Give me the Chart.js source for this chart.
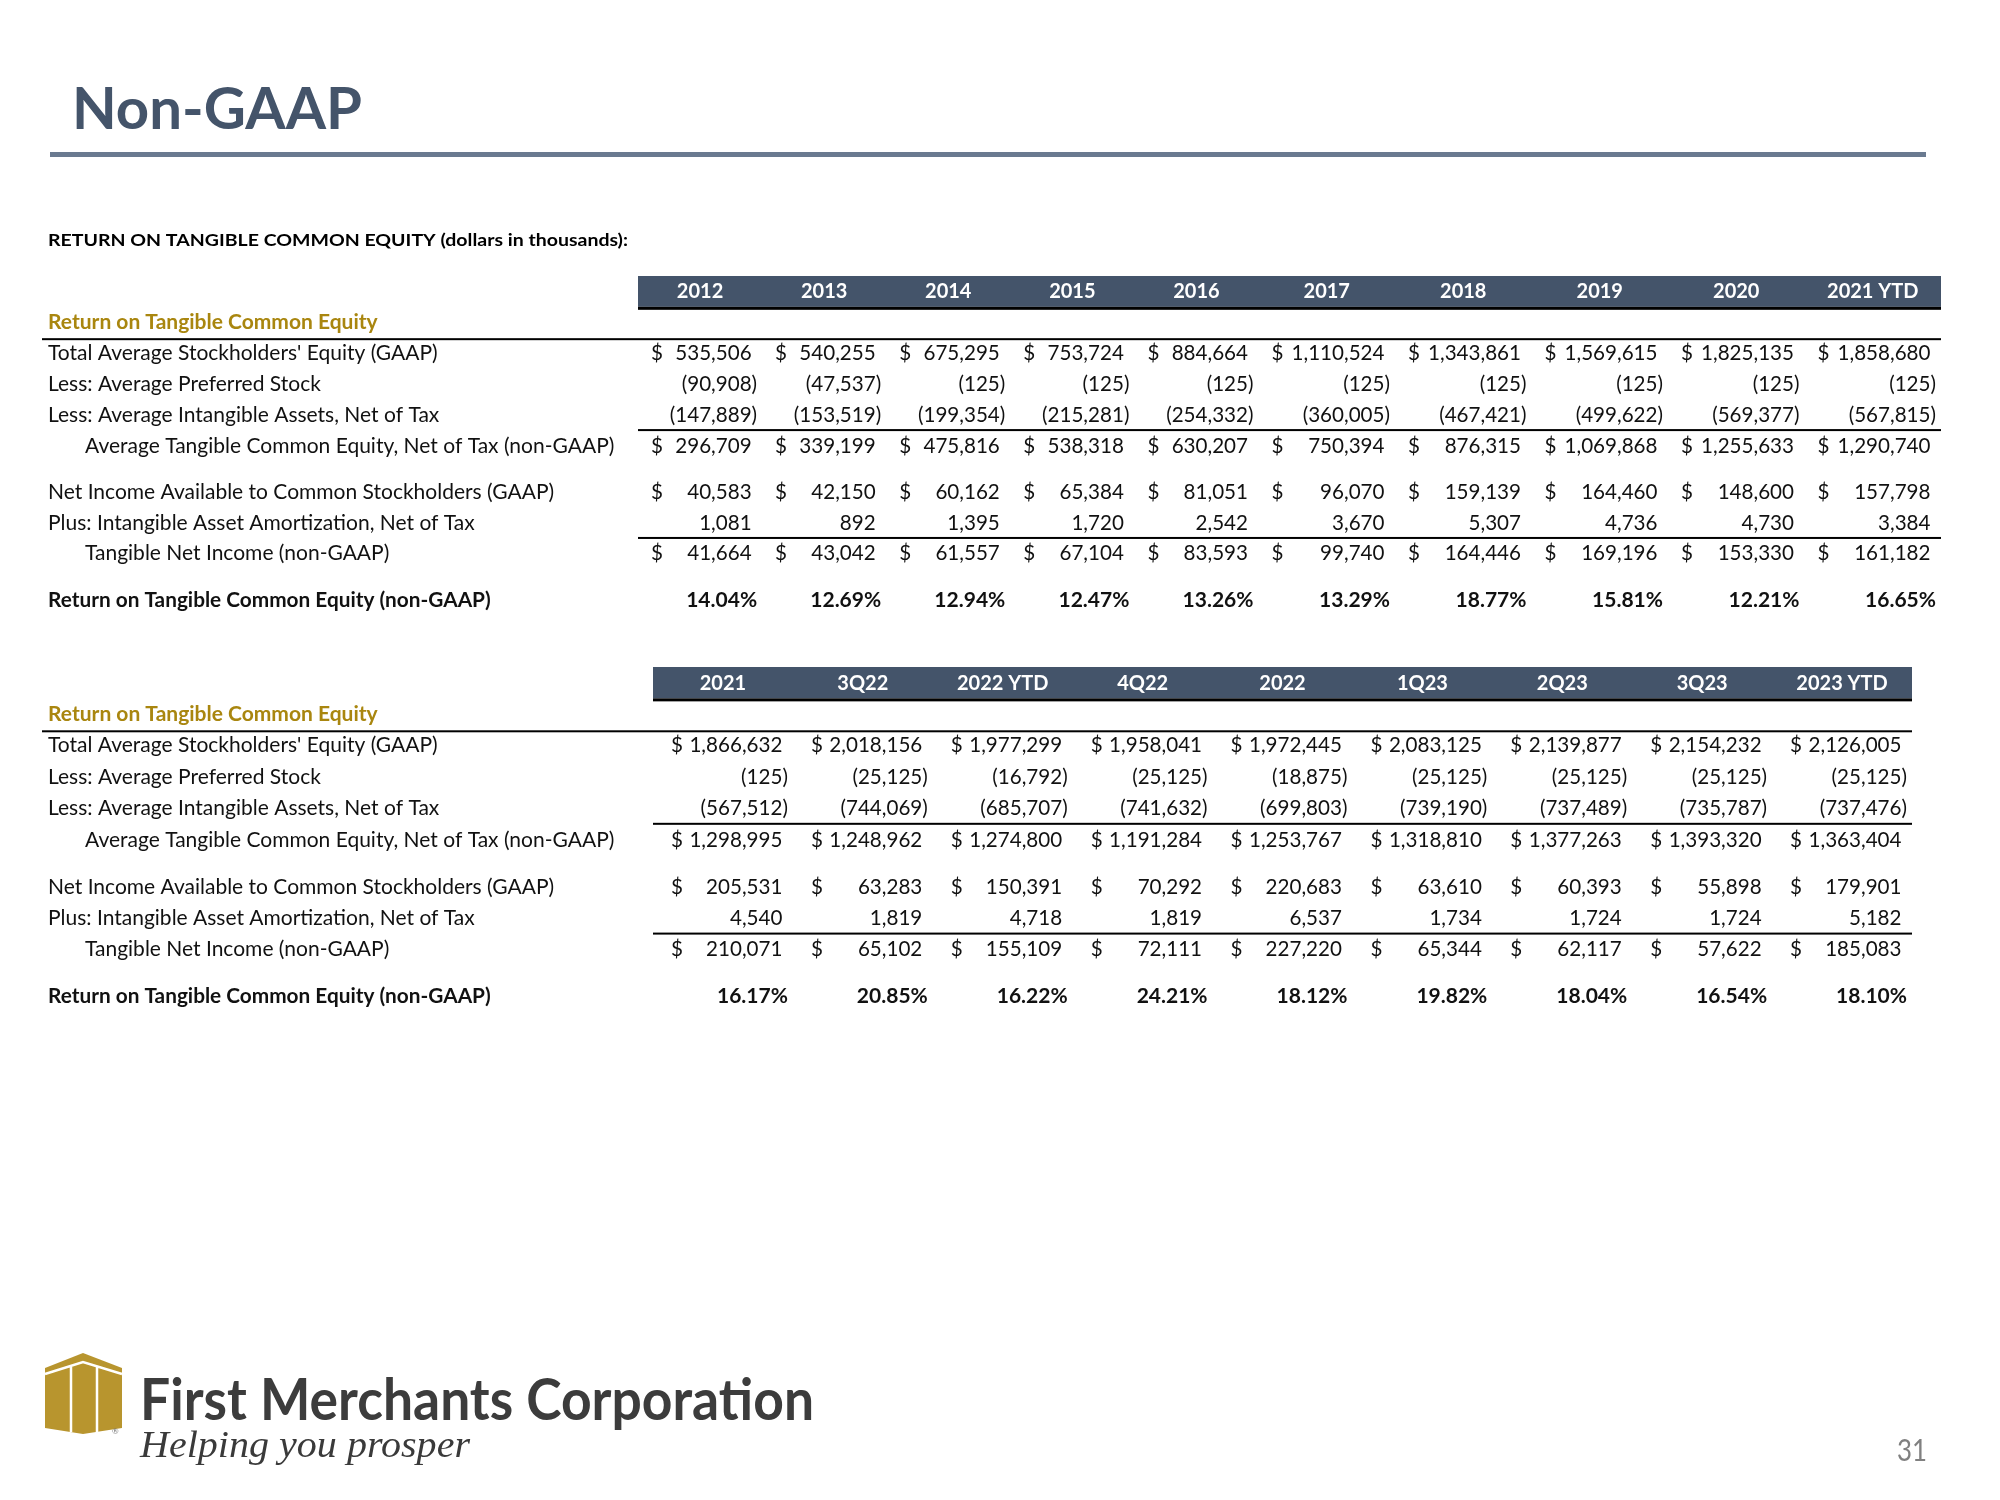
<!DOCTYPE html>
<html>
<head>
<meta charset="utf-8">
<script src="https://cdn.jsdelivr.net/npm/chart.js@4.4.1/dist/chart.umd.min.js"></script>
<style>
html, body { margin: 0; padding: 0; background: #fff; }
body { width: 2000px; height: 1500px; position: relative; overflow: hidden; }
canvas { position: absolute; left: 0; }
</style>
</head>
<body>
<canvas id="deco" width="2000" height="1500" style="top:0"></canvas>
<canvas id="t1" width="2000" height="400" style="top:250px"></canvas>
<canvas id="t2" width="2000" height="400" style="top:641px"></canvas>
<script>
// ---- data (dollars in thousands) ----
const rowLabels = [
  "Total Average Stockholders' Equity (GAAP)",
  'Less: Average Preferred Stock',
  'Less: Average Intangible Assets, Net of Tax',
  'Average Tangible Common Equity, Net of Tax (non-GAAP)',
  'Net Income Available to Common Stockholders (GAAP)',
  'Plus: Intangible Asset Amortization, Net of Tax',
  'Tangible Net Income (non-GAAP)',
  'Return on Tangible Common Equity (non-GAAP)'
]

const cols1 = ['2012', '2013', '2014', '2015', '2016', '2017', '2018', '2019', '2020', '2021 YTD']
const equity1 = [535506, 540255, 675295, 753724, 884664, 1110524, 1343861, 1569615, 1825135, 1858680]
const preferred1 = [-90908, -47537, -125, -125, -125, -125, -125, -125, -125, -125]
const intangibles1 = [-147889, -153519, -199354, -215281, -254332, -360005, -467421, -499622, -569377, -567815]
const tangibleEquity1 = [296709, 339199, 475816, 538318, 630207, 750394, 876315, 1069868, 1255633, 1290740]
const netIncome1 = [40583, 42150, 60162, 65384, 81051, 96070, 159139, 164460, 148600, 157798]
const amortization1 = [1081, 892, 1395, 1720, 2542, 3670, 5307, 4736, 4730, 3384]
const tangibleIncome1 = [41664, 43042, 61557, 67104, 83593, 99740, 164446, 169196, 153330, 161182]
const rotce1 = [14.04, 12.69, 12.94, 12.47, 13.26, 13.29, 18.77, 15.81, 12.21, 16.65]

const cols2 = ['2021', '3Q22', '2022 YTD', '4Q22', '2022', '1Q23', '2Q23', '3Q23', '2023 YTD']
const equity2 = [1866632, 2018156, 1977299, 1958041, 1972445, 2083125, 2139877, 2154232, 2126005]
const preferred2 = [-125, -25125, -16792, -25125, -18875, -25125, -25125, -25125, -25125]
const intangibles2 = [-567512, -744069, -685707, -741632, -699803, -739190, -737489, -735787, -737476]
const tangibleEquity2 = [1298995, 1248962, 1274800, 1191284, 1253767, 1318810, 1377263, 1393320, 1363404]
const netIncome2 = [205531, 63283, 150391, 70292, 220683, 63610, 60393, 55898, 179901]
const amortization2 = [4540, 1819, 4718, 1819, 6537, 1734, 1724, 1724, 5182]
const tangibleIncome2 = [210071, 65102, 155109, 72111, 227220, 65344, 62117, 57622, 185083]
const rotce2 = [16.17, 20.85, 16.22, 24.21, 18.12, 19.82, 18.04, 16.54, 18.10]

// ---- layout ----
const FONT = 'Lato, "Open Sans", sans-serif'
const GOLD = '#A9860F'
const SLATE = '#44546A'
const rowPos = [0, 1, 2, 3, 4.5, 5.5, 6.5, 8]   // row slots on the y scale
const dollarRows = [0, 3, 4, 6]
const indentRows = [3, 6]

function fmt(v, pct) {
  if (pct) return v.toFixed(2) + '%'
  const s = Math.abs(v).toLocaleString('en-US')
  return v < 0 ? '(' + s + ')' : s
}

const tablePlugin = {
  id: 'tableText',
  afterDraw(chart, args, opts) {
    const ctx = chart.ctx
    const xs = chart.scales.x, ys = chart.scales.y
    const edges = opts.edges
    const left = xs.getPixelForValue(0)
    const right = xs.getPixelForValue(edges[edges.length - 1])
    ctx.save()

    // header band
    const bt = ys.getPixelForValue(-2.5), bb = ys.getPixelForValue(-1.5)
    ctx.fillStyle = SLATE
    ctx.fillRect(left, bt, right - left, bb - bt)
    ctx.fillStyle = '#000'
    ctx.fillRect(left, bb, right - left, 3)
    ctx.font = 'bold 20px ' + FONT
    ctx.fillStyle = '#fff'
    ctx.textAlign = 'center'
    opts.cols.forEach((c, i) => {
      ctx.fillText(c, xs.getPixelForValue((edges[i] + edges[i + 1]) / 2), ys.getPixelForValue(-2) + 7)
    })

    // section heading
    ctx.textAlign = 'left'
    ctx.font = 'bold 21px ' + FONT
    ctx.fillStyle = GOLD
    ctx.fillText('Return on Tangible Common Equity', 48, ys.getPixelForValue(-1) + 7)
    ctx.fillStyle = '#000'
    ctx.fillRect(42, ys.getPixelForValue(-0.45) - 1, right - 42, 2)
    ctx.fillRect(left, ys.getPixelForValue(2.5) - 1, right - left, 2)
    ctx.fillRect(left, ys.getPixelForValue(6) - 1, right - left, 2)

    // rows
    chart.data.datasets.forEach((ds, r) => {
      const meta = chart.getDatasetMeta(r)
      const pct = r === 7
      const base = meta.data[0].y + 7
      ctx.fillStyle = '#111'
      ctx.textAlign = 'left'
      ctx.font = pct ? 'bold 20.8px ' + FONT : '21px ' + FONT
      ctx.fillText(ds.label, indentRows.includes(r) ? 85 : 48, base)
      ctx.font = pct ? 'bold 21px ' + FONT : '20.6px ' + FONT
      const paren = ctx.measureText(')').width
      ds.values.forEach((v, i) => {
        const cr = xs.getPixelForValue(edges[i + 1]) - 5
        const cl = xs.getPixelForValue(edges[i])
        if (dollarRows.includes(r)) {
          ctx.textAlign = 'left'
          ctx.fillText('$', cl + opts.dollarInset, base)
        }
        ctx.textAlign = 'right'
        ctx.fillText(fmt(v, pct), (v < 0 || pct) ? cr : cr - paren, base)
      })
    })
    ctx.restore()
  }
}

function makeTable(id, cols, series, weights, pad, dollarInset) {
  const edges = [0]
  weights.forEach(w => edges.push(edges[edges.length - 1] + w))
  const centers = cols.map((c, i) => (edges[i] + edges[i + 1]) / 2)
  return new Chart(document.getElementById(id), {
    type: 'scatter',
    data: {
      datasets: series.map((vals, r) => ({
        label: rowLabels[r],
        values: vals,
        data: vals.map((v, i) => ({ x: centers[i], y: rowPos[r] })),
        pointRadius: 0
      }))
    },
    options: {
      responsive: false,
      animation: false,
      events: [],
      layout: { padding: pad },
      scales: {
        x: { type: 'linear', display: false, min: 0, max: edges[edges.length - 1] },
        y: { type: 'linear', display: false, min: -2.5, max: 8.5, reverse: true }
      },
      plugins: {
        legend: { display: false },
        tooltip: { enabled: false },
        tableText: { cols: cols, edges: edges, dollarInset: dollarInset }
      }
    },
    plugins: [tablePlugin]
  })
}

makeTable('t1', cols1,
  [equity1, preferred1, intangibles1, tangibleEquity1, netIncome1, amortization1, tangibleIncome1, rotce1],
  [1, 1, 1, 1, 1, 1.1, 1.1, 1.1, 1.1, 1.1],
  { left: 638, right: 59, top: 26, bottom: 35 }, 13)

makeTable('t2', cols2,
  [equity2, preferred2, intangibles2, tangibleEquity2, netIncome2, amortization2, tangibleIncome2, rotce2],
  [1, 1, 1, 1, 1, 1, 1, 1, 1],
  { left: 653, right: 88, top: 26, bottom: 29 }, 18)

// ---- slide decorations ----
const d = document.getElementById('deco').getContext('2d')

function fitText(text, x, base, font, color, width) {
  d.save()
  d.font = font
  d.fillStyle = color
  const w = d.measureText(text).width
  d.translate(x, base)
  d.scale(width / w, 1)
  d.fillText(text, 0, 0)
  d.restore()
}

fitText('Non-GAAP', 72, 129, 'bold 58px ' + FONT, SLATE, 290)
d.fillStyle = '#6A7A90'
d.fillRect(50, 152, 1876, 5)
fitText('RETURN ON TANGIBLE COMMON EQUITY (dollars in thousands):', 48, 246, 'bold 17px ' + FONT, '#000', 580)

// logo mark
d.fillStyle = '#B8952E'
d.beginPath()
d.moveTo(45, 1368); d.lineTo(83, 1353); d.lineTo(122, 1368)
d.lineTo(122, 1428); d.lineTo(83, 1434); d.lineTo(45, 1428)
d.closePath(); d.fill()
d.strokeStyle = '#fff'
d.lineWidth = 2.5
d.beginPath()
d.moveTo(45, 1374); d.lineTo(83, 1362); d.lineTo(122, 1374)
d.moveTo(71, 1366); d.lineTo(71, 1432)
d.moveTo(97, 1366); d.lineTo(97, 1432)
d.stroke()
d.font = '8px ' + FONT
d.fillStyle = '#777'
d.fillText('®', 112, 1434)

fitText('First Merchants Corporation', 140, 1420, 'bold 57px ' + FONT, '#3C3C3C', 674)
fitText('Helping you prosper', 140, 1457, 'italic 38px "Liberation Serif", serif', '#3A3A3A', 330)
fitText('31', 1897, 1461, '30px ' + FONT, '#808080', 30)
</script>
</body>
</html>
